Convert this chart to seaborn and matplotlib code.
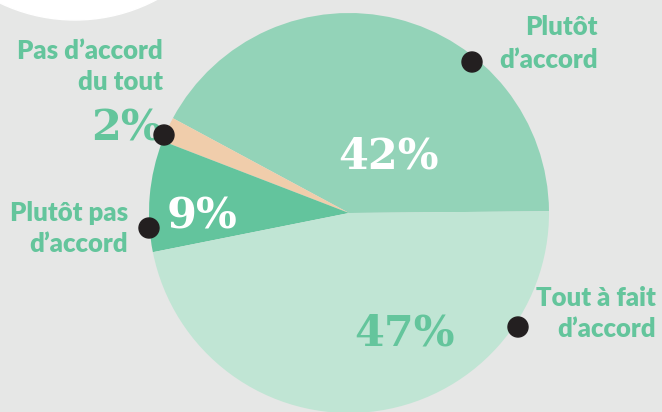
import matplotlib
matplotlib.use("Agg")
import matplotlib.pyplot as plt
import seaborn as sns
from matplotlib.patches import Circle

# ---- data ----
categories = ["Plutôt d’accord", "Pas d’accord du tout", "Plutôt pas d’accord", "Tout à fait d’accord"]
label_lines = [["Plutôt", "d’accord"], ["Pas d’accord", "du tout"], ["Plutôt pas", "d’accord"], ["Tout à fait", "d’accord"]]
values = [42, 2, 9, 47]
pct_labels = ["42%", "2%", "9%", "47%"]

# ---- style ----
sns.set_style("white")
plt.rcParams['font.family'] = ['Lato', 'DejaVu Sans']
bg = "#e6e7e6"
wedge_colors = ["#93d3b8", "#f0cdab", "#63c49d", "#c0e5d4"]
green_text = "#64c59c"
dot_color = "#231f20"

W, H = 662, 412
fig = plt.figure(figsize=(W / 100, H / 100), dpi=100, facecolor=bg)
ax = fig.add_axes([0, 0, 1, 1])
ax.set_facecolor(bg)

def Y(py):
    return H - py

# decorative white circle top-left
ax.add_patch(Circle((75, Y(-154)), 174, color="white", zorder=0))

ax.pie(values, colors=wedge_colors, startangle=0.5, counterclock=True,
       radius=200, center=(349, Y(213)), frame=True,
       wedgeprops=dict(linewidth=0))
ax.set_xlim(0, W)
ax.set_ylim(0, H)
ax.set_aspect("equal")
ax.axis("off")

# percentage labels
pct_pos = [(389, 156), (126, 128), (202, 216), (405, 334)]
pct_col = ["white", green_text, "white", green_text]
for t, (x, y), c in zip(pct_labels, pct_pos, pct_col):
    ax.text(x, Y(y), t, ha="center", va="center", fontsize=31, color=c,
            family=["DejaVu Serif"], fontweight="bold", zorder=5)

# category labels (two lines, right aligned)
lab_pos = [(598, 27, 60), (163, 51, 82), (128, 213, 244), (656, 298, 329)]
for lines, (x, y1, y2) in zip(label_lines, lab_pos):
    for ln, yy in zip(lines, (y1, y2)):
        ax.text(x, Y(yy), ln, ha="right", va="center", fontsize=18.5,
                color=green_text, fontweight="heavy", zorder=5)

# dots
dot_pos = [(472, 62), (164, 135), (149, 228), (518, 327)]
for (x, y) in dot_pos:
    ax.add_patch(Circle((x, Y(y)), 10, color=dot_color, zorder=6))

fig.savefig("out.png", dpi=100, facecolor=bg)
